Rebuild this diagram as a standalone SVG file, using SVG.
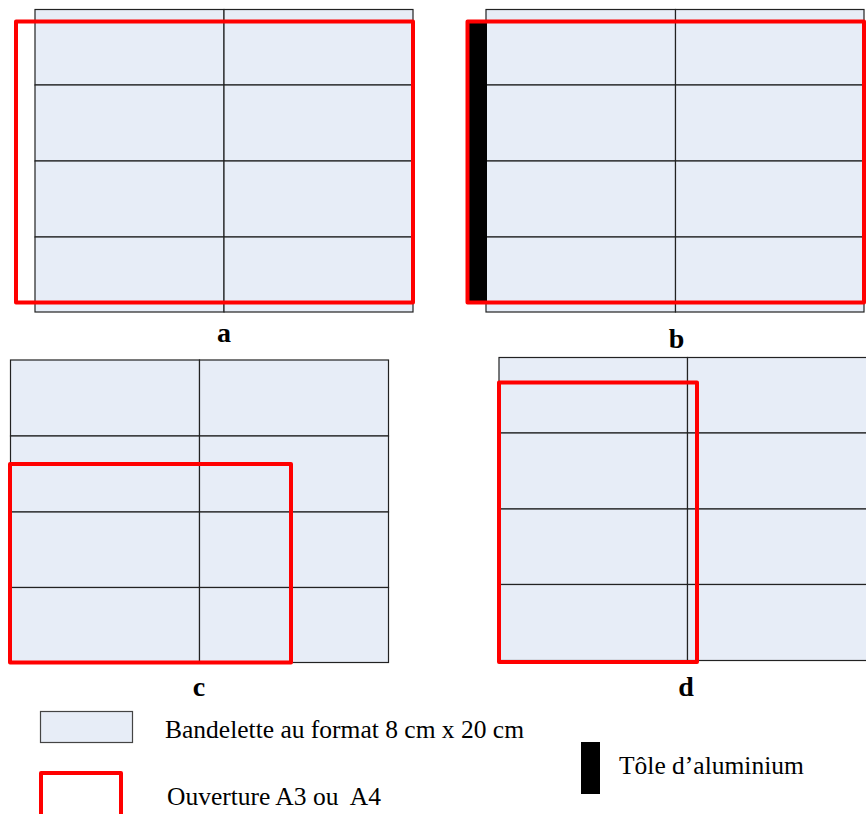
<svg xmlns="http://www.w3.org/2000/svg" width="866" height="814" viewBox="0 0 866 814">
<style>
.cell{fill:#E7EDF7;stroke:#222;stroke-width:1.2}
.open{fill:none;stroke:#FF0000;stroke-width:4;stroke-linejoin:round}
.tole{fill:#000}
.lbl{font-family:"Liberation Serif","Times New Roman",serif;font-weight:bold;font-size:28px;fill:#000;text-anchor:middle}
.leg{font-family:"Liberation Serif","Times New Roman",serif;font-size:25.5px;fill:#000;white-space:pre}
</style>
<rect width="866" height="814" fill="#fff"/>
<g id="panel-a">
<rect class="cell" x="35" y="9.5" width="189" height="75.5"/>
<rect class="cell" x="224" y="9.5" width="189" height="75.5"/>
<rect class="cell" x="35" y="85" width="189" height="76"/>
<rect class="cell" x="224" y="85" width="189" height="76"/>
<rect class="cell" x="35" y="161" width="189" height="76"/>
<rect class="cell" x="224" y="161" width="189" height="76"/>
<rect class="cell" x="35" y="237" width="189" height="75"/>
<rect class="cell" x="224" y="237" width="189" height="75"/>
<rect class="open" x="16" y="21.5" width="397" height="281"/>
<text class="lbl" x="224" y="341.5">a</text>
</g>
<g id="panel-b">
<rect class="cell" x="486" y="9.5" width="189.5" height="75.5"/>
<rect class="cell" x="675.5" y="9.5" width="188.5" height="75.5"/>
<rect class="cell" x="486" y="85" width="189.5" height="76"/>
<rect class="cell" x="675.5" y="85" width="188.5" height="76"/>
<rect class="cell" x="486" y="161" width="189.5" height="76"/>
<rect class="cell" x="675.5" y="161" width="188.5" height="76"/>
<rect class="cell" x="486" y="237" width="189.5" height="75"/>
<rect class="cell" x="675.5" y="237" width="188.5" height="75"/>
<rect class="tole" x="468" y="22" width="19" height="281"/>
<rect class="open" x="467.5" y="21.5" width="396.5" height="281"/>
<text class="lbl" x="676.5" y="348">b</text>
</g>
<g id="panel-c">
<rect class="cell" x="10.5" y="360" width="189" height="76"/>
<rect class="cell" x="199.5" y="360" width="189" height="76"/>
<rect class="cell" x="10.5" y="436" width="189" height="76"/>
<rect class="cell" x="199.5" y="436" width="189" height="76"/>
<rect class="cell" x="10.5" y="512" width="189" height="75.5"/>
<rect class="cell" x="199.5" y="512" width="189" height="75.5"/>
<rect class="cell" x="10.5" y="587.5" width="189" height="75"/>
<rect class="cell" x="199.5" y="587.5" width="189" height="75"/>
<rect class="open" x="10" y="464" width="281" height="198.5"/>
<text class="lbl" x="199" y="695.5">c</text>
</g>
<g id="panel-d">
<rect class="cell" x="499" y="357.5" width="188.5" height="75.5"/>
<rect class="cell" x="687.5" y="357.5" width="189" height="75.5"/>
<rect class="cell" x="499" y="433" width="188.5" height="76"/>
<rect class="cell" x="687.5" y="433" width="189" height="76"/>
<rect class="cell" x="499" y="509" width="188.5" height="75.5"/>
<rect class="cell" x="687.5" y="509" width="189" height="75.5"/>
<rect class="cell" x="499" y="584.5" width="188.5" height="76"/>
<rect class="cell" x="687.5" y="584.5" width="189" height="76"/>
<rect class="open" x="499" y="382.5" width="198" height="279.5"/>
<text class="lbl" x="686" y="695.5">d</text>
</g>
<g id="legend-bandelette">
<rect class="cell" x="40.5" y="711.5" width="92" height="31" style="stroke:#444"/>
<text class="leg" x="165" y="737.5">Bandelette au format 8 cm x 20 cm</text>
</g>
<g id="legend-ouverture">
<rect class="open" x="41" y="773" width="80" height="60"/>
<text class="leg" x="167" y="805" xml:space="preserve">Ouverture A3 ou  A4</text>
</g>
<g id="legend-tole">
<rect class="tole" x="581" y="742" width="19" height="52"/>
<text class="leg" x="619" y="773.5">Tôle d’aluminium</text>
</g>
<g id="connectors"/>
</svg>
